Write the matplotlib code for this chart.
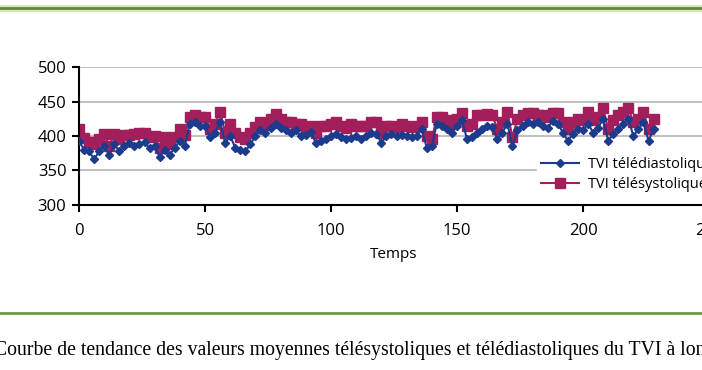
import numpy as np
import matplotlib.pyplot as plt
from matplotlib.lines import Line2D

# data (one point every 2 time units)
temps = list(range(0, 230, 2))
tvi_diastolique = [393, 380, 378, 366, 378, 385, 372, 388, 378, 386,
                   390, 385, 388, 392, 382, 385, 370, 380, 373, 383,
                   393, 386, 418, 420, 415, 415, 398, 405, 420, 390,
                   400, 383, 380, 378, 388, 400, 408, 405, 412, 418,
                   412, 408, 405, 408, 400, 402, 406, 390, 393, 395,
                   400, 403, 398, 395, 397, 400, 396, 400, 405, 403,
                   390, 400, 403, 400, 402, 400, 398, 400, 410, 383,
                   386, 418, 415, 410, 405, 415, 423, 395, 398, 405,
                   410, 415, 413, 395, 405, 418, 385, 408, 415, 420,
                   418, 420, 415, 412, 422, 418, 405, 393, 403, 410,
                   408, 418, 405, 412, 425, 393, 403, 410, 418, 425,
                   400, 410, 420, 393, 410]
tvi_systolique = [410, 397, 392, 388, 395, 403, 385, 403, 395, 402,
                  402, 403, 405, 405, 398, 400, 383, 398, 388, 398,
                  410, 402, 428, 430, 428, 428, 410, 418, 435, 405,
                  418, 405, 398, 395, 405, 413, 420, 418, 425, 432,
                  425, 420, 420, 418, 418, 410, 415, 405, 415, 415,
                  418, 420, 415, 412, 418, 415, 415, 415, 420, 420,
                  405, 415, 415, 413, 417, 415, 413, 415, 420, 400,
                  395, 428, 428, 423, 418, 425, 433, 415, 418, 430,
                  430, 432, 430, 410, 420, 435, 398, 425, 430, 433,
                  433, 430, 430, 428, 433, 433, 420, 410, 420, 425,
                  423, 435, 423, 428, 440, 410, 423, 430, 435, 440,
                  420, 425, 435, 410, 425]
yticks = [300, 350, 400, 450, 500]
xticks = [0, 50, 100, 150, 200, 250]

bleu = '#1d3b8c'
magenta = '#a31f5c'

fig = plt.figure(figsize=(7.02, 3.70), dpi=100)
fig.patch.set_facecolor('white')

# green rules of the page
fig.add_artist(Line2D([0, 1], [1 - 8 / 370, 1 - 8 / 370], color='#d7e8b8', lw=5, transform=fig.transFigure))
fig.add_artist(Line2D([0, 1], [1 - 8 / 370, 1 - 8 / 370], color='#5f8a3c', lw=2, transform=fig.transFigure))
fig.add_artist(Line2D([0, 1], [1 - 313 / 370, 1 - 313 / 370], color='#6a9a45', lw=2, transform=fig.transFigure))

# axes: x=0 at px 79, 2.52 px per unit; y 500 at px 67, 300 at px 205
left = 79 / 702
width = 250 * 2.52 / 702
bottom = 1 - 205 / 370
height = 138 / 370
ax = fig.add_axes([left, bottom, width, height])

ax.plot(temps, tvi_diastolique, color=bleu, lw=1.5, marker='D', ms=4.5,
        label='TVI télédiastolique', zorder=3)
ax.plot(temps, tvi_systolique, color=magenta, lw=1.5, marker='s', ms=7,
        label='TVI télésystolique', zorder=2)

ax.set_xlim(0, 250)
ax.set_ylim(300, 500)
ax.set_xticks(xticks)
ax.set_yticks(yticks)
ax.yaxis.grid(True, color='#b5b5b5', lw=1.2)
ax.set_axisbelow(True)
for s in ['top', 'right']:
    ax.spines[s].set_visible(False)
ax.spines['left'].set_linewidth(1.5)
ax.spines['bottom'].set_linewidth(1.5)
ax.tick_params(axis='both', direction='out', length=5, width=1.5,
               labelsize=12, colors='black')
ax.tick_params(axis='y', pad=4)
ax.tick_params(axis='x', pad=8)
for lab in ax.get_xticklabels() + ax.get_yticklabels():
    lab.set_family('Open Sans')
ax.set_xlabel('Temps', fontsize=11, family='Open Sans', labelpad=6)

leg = ax.legend(loc='upper left', bbox_to_anchor=(0.715, 0.435), frameon=True,
                prop={'family': 'Open Sans', 'size': 10.5},
                handlelength=2.6, handletextpad=0.6, borderpad=0.3,
                labelspacing=0.35, fancybox=False)
leg.get_frame().set_edgecolor('white')
leg.get_frame().set_alpha(1)

fig.text(-0.008, 1 - 350 / 370,
         'Courbe de tendance des valeurs moyennes télésystoliques et télédiastoliques du TVI à long terme',
         fontsize=14.2, family='Liberation Serif', va='center', ha='left')

fig.savefig('out.png', dpi=100)
